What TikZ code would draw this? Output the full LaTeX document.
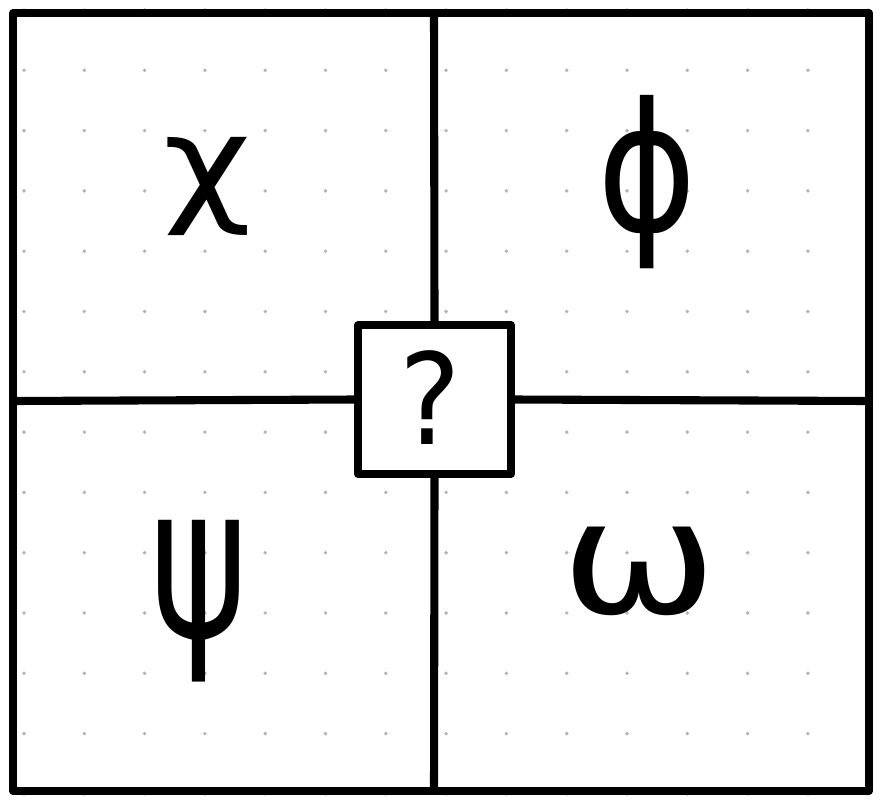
\documentclass[tikz,border=0pt]{standalone}
\usepackage{tikz}
\usepackage{xcolor}
\usepackage{fontspec}
\newfontfamily\greekhand{DejaVu Sans}
\definecolor{dotgray}{HTML}{B4B4B4}

\begin{document}
\begin{tikzpicture}[x=0.02cm, y=-0.02cm, line width=4.6pt, line join=round, line cap=round,
                glyph/.style={inner sep=0pt, font=\greekhand}]
                \useasboundingbox (0, 0) rectangle (884, 808);
                \fill[white] (0, 0) rectangle (884, 808);

                % dotted paper
                \foreach \i in {0,...,14}
                    \foreach \j in {0,...,13}
                        \fill[dotgray] (24+60.3*\i, 10+60.3*\j) circle (1.1pt);

                \draw (13, 13) rectangle (869, 791);

                \coordinate (top) at (434, 13);
                \coordinate (bottom) at (434, 791);
                \coordinate (left) at (13, 401);
                \coordinate (right) at (869, 401);

                \node[draw, fill=white, minimum width=3.06cm, minimum height=2.98cm, inner sep=0pt] (query) at (434.5, 399.5) {};
                \node[glyph, xscale=6.6, yscale=7.2] (mark) at (430, 398) {?};

                \draw (top) -- (query.north);
                \draw (query.south) -- (bottom);
                \draw (left) -- (query.west);
                \draw (query.east) -- (right);

                \node[glyph, xscale=8.7, yscale=7.4] (chi) at (208, 186) {χ};
                \node[glyph, xscale=8.6, yscale=10.2] (phi) at (647, 182) {ϕ};
                \node[glyph, xscale=8.4, yscale=12.2] (psi) at (199, 601) {ψ};
                \node[glyph, xscale=10.6, yscale=9] (omega) at (639, 571) {ω};
            \end{tikzpicture}
\end{document}
